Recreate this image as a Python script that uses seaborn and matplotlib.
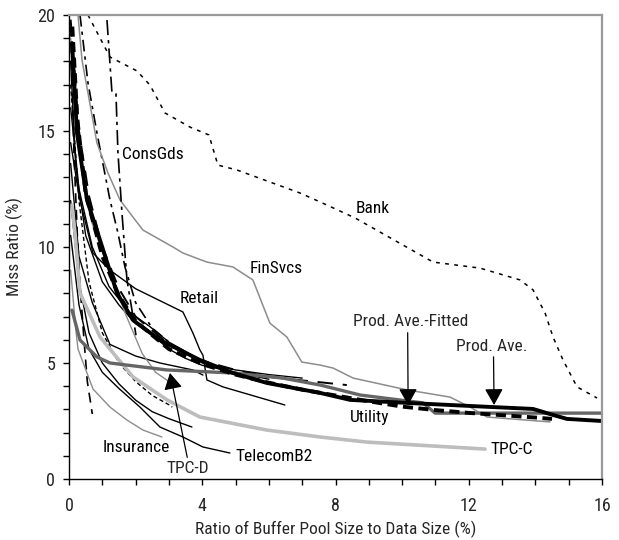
import numpy as np
import pandas as pd
import matplotlib
matplotlib.use("Agg")
import matplotlib.pyplot as plt
from matplotlib import font_manager
import seaborn as sns

# ---- workload miss-ratio curves: x = buffer pool / data size (%), y = miss ratio (%) ----
bank_x = [0.57, 1.23, 2.04, 2.43, 2.88, 3.63, 4.20, 4.47, 5.04, 6.93, 7.54, 8.59, 10.93, 12.34, 13.54, 13.93, 14.29, 14.53, 14.83, 15.25, 15.85]
bank_y = [20.0, 18.19, 17.59, 16.98, 15.78, 15.17, 14.83, 13.53, 13.32, 12.33, 11.94, 11.25, 9.35, 9.09, 8.58, 8.15, 7.16, 6.12, 5.13, 3.97, 3.49]

consgds_x = [1.14, 1.29, 1.41, 1.47, 1.59, 1.74, 1.89, 2.01]
consgds_y = [19.78, 16.64, 16.60, 14.05, 11.47, 8.58, 7.28, 6.20]

finsvcs_x = [0.27, 0.39, 0.57, 0.84, 1.17, 1.53, 1.92, 2.22, 3.12, 3.42, 4.14, 4.92, 5.52, 6.03, 6.54, 6.99, 7.54, 7.93, 8.53, 10.15, 11.44, 12.04, 12.55, 14.44]
finsvcs_y = [20.0, 18.06, 16.64, 14.48, 13.19, 12.03, 11.29, 10.73, 10.00, 9.74, 9.35, 9.14, 8.58, 6.72, 6.12, 5.04, 4.91, 4.78, 4.35, 3.84, 3.53, 3.10, 2.67, 2.46]

retail_x = [0.05, 0.3, 0.72, 1.23, 2.0, 3.42, 3.72, 3.93, 4.02, 4.14, 4.62, 6.48]
retail_y = [14.5, 12.2, 9.74, 9.0, 8.2, 7.20, 6.29, 5.56, 5.34, 4.27, 3.97, 3.19]

insurance_x = [0.05, 0.2, 0.27, 0.72, 1.23, 1.74, 2.22, 2.79]
insurance_y = [9.0, 6.5, 5.6, 3.88, 3.10, 2.54, 2.11, 1.81]

telecom_x = [0.05, 0.3, 0.6, 1.0, 1.5, 2.13, 2.73, 3.42, 4.02, 4.83]
telecom_y = [10.5, 7.5, 5.6, 4.6, 3.9, 3.10, 2.24, 1.81, 1.38, 1.12]

utility_x = [0.05, 0.3, 0.6, 1.0, 1.5, 2.0, 3.0, 4.0, 5.0, 6.0, 7.0, 8.34]
utility_y = [19.8, 15.0, 12.2, 10.0, 8.2, 7.0, 5.8, 5.1, 4.7, 4.4, 4.25, 4.05]

tpcc_x = [0.09, 0.18, 0.33, 0.93, 1.92, 2.94, 3.93, 5.94, 7.54, 8.95, 12.49]
tpcc_y = [11.81, 10.60, 8.02, 6.12, 4.40, 3.41, 2.67, 2.11, 1.81, 1.59, 1.29]

tpcd_x = [0.09, 0.33, 0.84, 1.23, 2.94, 4.92, 6.42, 7.54, 8.74, 10.63, 10.99, 16.0]
tpcd_y = [7.28, 5.99, 5.26, 5.00, 4.70, 4.57, 4.35, 4.05, 3.62, 3.28, 2.84, 2.84]

prodave_x = [0.09, 0.24, 0.54, 0.93, 1.44, 1.92, 2.73, 3.93, 4.92, 5.94, 7.54, 8.44, 10.15, 11.44, 12.73, 13.93, 14.53, 14.95, 16.0]
prodave_y = [18.79, 14.91, 12.03, 10.30, 8.02, 6.85, 5.99, 5.13, 4.57, 4.14, 3.71, 3.41, 3.28, 3.19, 3.10, 3.02, 2.76, 2.59, 2.50]

fitted_x = [0.1, 0.25, 0.5, 1.0, 1.5, 2.0, 3.0, 4.0, 5.0, 6.0, 7.0, 8.0, 9.0, 10.0, 11.0, 12.0, 13.0, 14.0, 14.5]
fitted_y = [19.5, 15.5, 12.3, 9.6, 7.9, 6.8, 5.6, 4.95, 4.5, 4.15, 3.85, 3.6, 3.35, 3.12, 2.97, 2.85, 2.75, 2.65, 2.59]

# other production traces (unlabelled)
w1_x = [0.05, 0.2, 0.5, 1.0, 1.5, 2.0, 2.5, 3.0, 3.5, 4.0, 5.0, 6.0]
w1_y = [18.0, 13.5, 10.5, 8.5, 7.5, 6.7, 6.2, 5.6, 5.2, 4.9, 4.6, 4.3]
w2_x = [0.05, 0.3, 0.7, 1.23, 2.0, 2.73, 3.72, 4.02]
w2_y = [13.6, 9.6, 7.6, 5.8, 5.3, 5.0, 4.7, 4.48]
w3_x = [0.05, 0.3, 0.6, 1.0, 1.5, 2.0, 2.5, 3.0, 3.69]
w3_y = [12.0, 8.5, 6.3, 5.0, 4.1, 3.4, 2.9, 2.6, 2.24]
w4_x = [0.05, 0.3, 0.7, 1.2, 1.7, 2.2, 2.6, 3.0, 3.3]
w4_y = [19.0, 14.0, 11.0, 9.0, 7.1, 5.4, 4.6, 4.2, 4.0]
w5_x = [0.05, 0.15, 0.25, 0.35, 0.45, 0.55, 0.7]
w5_y = [19.5, 14.0, 10.5, 8.0, 6.0, 4.2, 2.8]
w6_x = [0.05, 0.3, 0.6, 1.0, 1.5, 2.0, 2.5, 3.0, 3.1]
w6_y = [17.0, 12.0, 8.5, 6.3, 5.0, 4.2, 3.6, 3.2, 3.1]
w7_x = [0.33, 0.57, 0.84, 1.23, 1.47, 1.68, 2.0, 2.5, 3.0, 3.5]
w7_y = [20.0, 17.07, 14.91, 12.03, 10.6, 9.14, 7.6, 6.5, 5.9, 5.4]
w8_x = [0.05, 0.3, 0.7, 1.2, 1.8, 2.4, 3.0, 3.5, 4.0, 5.0, 6.0, 7.0]
w8_y = [16.0, 12.5, 10.0, 8.3, 7.2, 6.6, 5.9, 5.5, 5.0, 4.7, 4.5, 4.35]

x_ticks = [0, 4, 8, 12, 16]
y_ticks = [0, 5, 10, 15, 20]

sns.set_style("white")


def pick_narrow_face():
    """Return (family, stretch) for a narrow regular sans face, or None."""
    prefer = ["Liberation Sans Narrow", "Arial Narrow", "Noto Sans", "Open Sans",
              "Roboto", "DejaVu Sans"]
    found = []
    for f in font_manager.fontManager.ttflist:
        if f.style != "normal" or f.weight not in (400, "normal", "regular"):
            continue
        narrow_name = ("Narrow" in f.name) or ("Condensed" in f.name)
        narrow_stretch = f.stretch in ("condensed", "semi-condensed", 87.5, 75, 62.5)
        if narrow_name or narrow_stretch:
            found.append(f)
    for base in prefer:
        for f in found:
            if f.name.startswith(base) and "Semi" not in f.name and "Extra" not in f.name:
                if f.name == base:
                    return [f.name], f.stretch
                return [f.name], "normal"
    return None


choice = pick_narrow_face()
if choice is not None:
    FAMILY, STRETCH = choice
    FS, TICKFS = 12.5, 13
else:
    FAMILY, STRETCH = ["Liberation Sans"], "normal"
    FS, TICKFS = 11.5, 12
plt.rcParams["font.family"] = FAMILY + ["DejaVu Sans"]
plt.rcParams["font.stretch"] = STRETCH
plt.rcParams["font.size"] = FS

fig = plt.figure(figsize=(6.19, 5.40), dpi=100)
ax = fig.add_axes([69 / 619, 1 - 479 / 540, 533 / 619, 464 / 540])

GRAY = "#8c8c8c"
DARKGRAY = "#666666"
LIGHTGRAY = "#bdbdbd"


def draw(xs, ys, color, lw, ls="-"):
    df = pd.DataFrame({"x": xs, "y": ys})
    sns.lineplot(data=df, x="x", y="y", ax=ax, sort=False, estimator=None,
                 color=color, linewidth=lw, linestyle=ls)


# background traces
draw(w1_x, w1_y, "black", 1.0)
draw(w2_x, w2_y, "black", 1.0)
draw(w3_x, w3_y, "black", 1.0)
draw(w4_x, w4_y, GRAY, 1.0)
draw(w5_x, w5_y, "black", 1.2, (0, (6, 4)))
draw(w6_x, w6_y, "black", 1.0, (0, (3, 2)))
draw(w7_x, w7_y, "black", 1.2, (0, (7, 3, 2, 3)))
draw(w8_x, w8_y, "black", 1.0)

# labelled traces
draw(insurance_x, insurance_y, GRAY, 1.0)
draw(telecom_x, telecom_y, "black", 1.0)
draw(retail_x, retail_y, "black", 1.0)
draw(finsvcs_x, finsvcs_y, GRAY, 1.1)
draw(utility_x, utility_y, "black", 1.4, (0, (8, 5)))
draw(consgds_x, consgds_y, "black", 1.2, (0, (9, 3, 2, 3)))
draw(bank_x, bank_y, "black", 1.1, (0, (2.5, 3.5)))
draw(tpcc_x, tpcc_y, LIGHTGRAY, 2.6)
draw(tpcd_x, tpcd_y, DARKGRAY, 2.4)
draw(prodave_x, prodave_y, "black", 2.8)
draw(fitted_x, fitted_y, "black", 2.8, (0, (2.6, 1.4)))

ax.set_xlim(0, 16)
ax.set_ylim(0, 20)
ax.set_xticks(x_ticks)
ax.set_yticks(y_ticks)
ax.set_xticks(np.arange(0, 17, 1), minor=True)
ax.set_yticks(np.arange(0, 21, 1), minor=True)
ax.tick_params(which="both", direction="out", length=4, width=1, color="black",
               bottom=True, left=True)
ax.tick_params(axis="both", labelsize=TICKFS)
ax.tick_params(axis="x", pad=9)
ax.tick_params(axis="y", pad=6)

for side in ("left", "bottom"):
    ax.spines[side].set_color("black")
    ax.spines[side].set_linewidth(1.0)
for side in ("top", "right"):
    ax.spines[side].set_color("#9a9a9a")
    ax.spines[side].set_linewidth(1.6)

ax.set_xlabel("Ratio of Buffer Pool Size to Data Size (%)", fontsize=FS, labelpad=4)
ax.set_ylabel("Miss Ratio (%)", fontsize=FS, labelpad=10)

# curve names
txt = dict(fontsize=FS, va="center", ha="left", color="black")
ax.text(1.60, 13.97, "ConsGds", **txt)
ax.text(8.59, 11.68, "Bank", **txt)
ax.text(5.43, 9.09, "FinSvcs", **txt)
ax.text(3.33, 7.76, "Retail", **txt)
ax.text(8.44, 2.63, "Utility", **txt)
ax.text(12.64, 1.29, "TPC-C", **txt)
ax.text(1.02, 1.34, "Insurance", **txt)
ax.text(5.01, 0.95, "TelecomB2", **txt)

head = dict(arrowstyle="-|>,head_length=0.8,head_width=0.45", color="black", lw=0.9,
            shrinkA=0, shrinkB=0)
ax.annotate("TPC-D", xy=(3.03, 4.57), xytext=(3.57, 0.47), ha="center", va="center",
            fontsize=FS, arrowprops=dict(head, relpos=(0.5, 1.0)))
ax.annotate("Prod. Ave.-Fitted", xy=(10.18, 3.19), xytext=(10.27, 6.77), ha="center",
            va="center", fontsize=FS, arrowprops=dict(head, relpos=(0.47, 0.0)))
ax.annotate("Prod. Ave.", xy=(12.76, 3.19), xytext=(12.70, 5.73), ha="center",
            va="center", fontsize=FS, arrowprops=dict(head, relpos=(0.52, 0.0)))

fig.savefig("out.png", dpi=100)
